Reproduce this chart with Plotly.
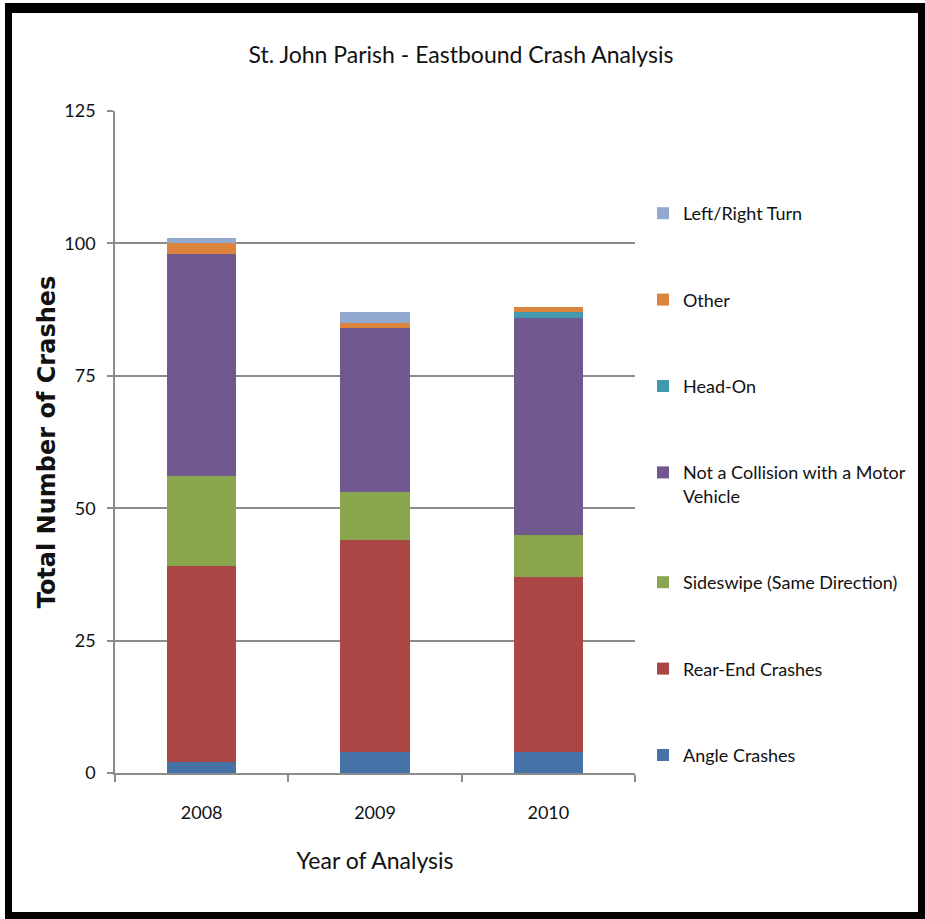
import plotly.graph_objects as go

# Eastbound crash counts by year and crash type
years = ["2008", "2009", "2010"]
angle_crashes = [2, 4, 4]
rear_end = [37, 40, 33]
sideswipe = [17, 9, 8]
not_collision = [42, 31, 41]
head_on = [0, 0, 1]
other = [2, 1, 1]
left_right_turn = [1, 2, 0]

series = [
    ("Angle Crashes", angle_crashes, "#4572A7"),
    ("Rear-End Crashes", rear_end, "#AA4643"),
    ("Sideswipe (Same Direction)", sideswipe, "#89A54E"),
    ("Not a Collision with a Motor<br>Vehicle", not_collision, "#71588F"),
    ("Head-On", head_on, "#4198AF"),
    ("Other", other, "#DB843D"),
    ("Left/Right Turn", left_right_turn, "#93A9CF"),
]

FONT = "Lato, Open Sans, sans-serif"

fig = go.Figure()
n = len(series)
for i, (name, vals, color) in enumerate(series):
    fig.add_trace(go.Bar(
        x=years, y=vals, name=name, legendgroup=f"g{i}",
        legendrank=n - i,
        marker=dict(color=color, line=dict(width=0)),
        width=0.4,
    ))

# plot area in pixels: left 115, right 635, top 111, bottom 773
L, R, T, B = 115, 635, 111, 773
W, H = 925, 919


def px(x):
    return (x - L) / (R - L)


def py(y):
    return (B - y) / (B - T)


# outer black frame
frame = [
    (5, 3, 12, 919),
    (5, 3, 925, 13),
    (918, 3, 925, 919),
    (5, 912, 925, 919),
]
shapes = [
    dict(type="rect", xref="paper", yref="paper",
         x0=px(x0), x1=px(x1), y0=py(y1), y1=py(y0),
         fillcolor="black", line=dict(width=0), layer="above")
    for x0, y0, x1, y1 in frame
]

fig.update_layout(
    width=W, height=H,
    margin=dict(l=L, r=W - R, t=T, b=H - B, autoexpand=False),
    paper_bgcolor="white", plot_bgcolor="white",
    barmode="stack",
    shapes=shapes,
    font=dict(family=FONT, color="#000000"),
    title=dict(
        text="St. John Parish - Eastbound Crash Analysis",
        xref="container", x=461 / W, xanchor="center",
        yref="container", y=1 - 55 / H, yanchor="middle",
        font=dict(family=FONT, size=23, color="#111111"),
    ),
    legend=dict(
        x=px(643), xanchor="left", y=py(195), yanchor="top",
        traceorder="grouped",
        tracegroupgap=60,
        valign="top",
        font=dict(family=FONT, size=18, color="#111111"),
        itemwidth=30,
        bgcolor="rgba(0,0,0,0)",
    ),
    xaxis=dict(
        type="category",
        showline=True, linecolor="#8c8c8c", linewidth=1.5,
        ticks="outside", tickson="boundaries", ticklen=7,
        tickcolor="#8c8c8c", tickwidth=1.5,
        ticklabelstandoff=23,
        tickfont=dict(family=FONT, size=18, color="#111111"),
        title=dict(text="Year of Analysis", standoff=31,
                   font=dict(family=FONT, size=23, color="#111111")),
        showgrid=False,
    ),
    yaxis=dict(
        range=[0, 125], tickvals=[0, 25, 50, 75, 100, 125],
        showline=True, linecolor="#8c8c8c", linewidth=1.5,
        ticks="outside", ticklen=6, tickcolor="#8c8c8c", tickwidth=1.5,
        ticklabelstandoff=8,
        showgrid=True, gridcolor="#8c8c8c", gridwidth=1.5,
        tickfont=dict(family=FONT, size=18, color="#111111"),
        zeroline=False,
        title=dict(text="<b>Total Number of Crashes</b>", standoff=2,
                   font=dict(family="DejaVu Sans", size=24, color="#111111")),
    ),
)

fig.write_html("out.html")
